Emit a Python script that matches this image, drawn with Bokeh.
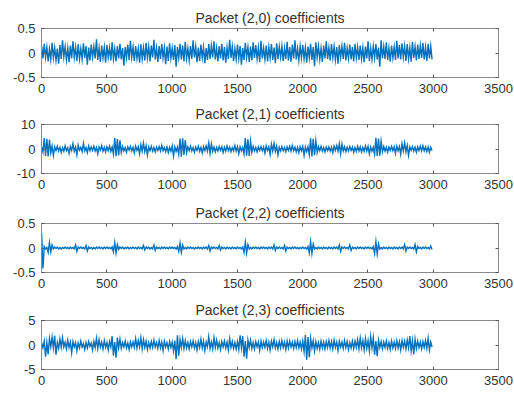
import numpy as np
from bokeh.plotting import figure
from bokeh.layouts import column
from bokeh.models import LinearAxis, FixedTicker, Range1d
from bokeh.embed import file_html
from bokeh.resources import INLINE

# ---------------- data ----------------
sample_index = np.arange(1, 3000, 10)

titles = ["Packet (2,0) coefficients", "Packet (2,1) coefficients",
          "Packet (2,2) coefficients", "Packet (2,3) coefficients"]

coef_20 = [
    0.14, -0.11, 0.19, -0.09, 0.12, -0.17, 0.08, -0.13, 0.21, -0.10,
    0.11, -0.15, 0.09, -0.22, 0.16, -0.12, 0.26, -0.08, 0.13, -0.14,
    0.10, -0.19, 0.15, -0.11, 0.24, -0.09, 0.12, -0.16, 0.18, -0.12,
    0.09, -0.13, 0.20, -0.10, 0.14, -0.24, 0.11, -0.15, 0.17, -0.09,
    0.13, -0.11, 0.28, -0.14, 0.10, -0.18, 0.15, -0.10, 0.12, -0.20,
    0.16, -0.09, 0.11, -0.15, 0.22, -0.12, 0.09, -0.17, 0.14, -0.11,
    0.19, -0.13, 0.10, -0.26, 0.12, -0.10, 0.17, -0.14, 0.25, -0.09,
    0.12, -0.16, 0.14, -0.11, 0.09, -0.20, 0.18, -0.12, 0.11, -0.15,
    0.21, -0.10, 0.13, -0.17, 0.15, -0.09, 0.27, -0.13, 0.10, -0.18,
    0.14, -0.12, 0.18, -0.10, 0.11, -0.23, 0.13, -0.16, 0.20, -0.11,
    0.10, -0.14, 0.16, -0.28, 0.12, -0.10, 0.19, -0.13, 0.15, -0.17,
    0.23, -0.11, 0.09, -0.15, 0.14, -0.12, 0.26, -0.09, 0.13, -0.19,
    0.11, -0.16, 0.17, -0.10, 0.12, -0.21, 0.10, -0.14, 0.18, -0.12,
    0.15, -0.09, 0.24, -0.13, 0.10, -0.17, 0.14, -0.11, 0.19, -0.15,
    0.12, -0.20, 0.11, -0.12, 0.27, -0.10, 0.13, -0.16, 0.09, -0.13,
    0.17, -0.11, 0.14, -0.24, 0.10, -0.14, 0.21, -0.09, 0.12, -0.18,
    0.13, -0.15, 0.22, -0.10, 0.16, -0.12, 0.11, -0.19, 0.25, -0.11,
    0.10, -0.13, 0.15, -0.17, 0.12, -0.10, 0.18, -0.14, 0.11, -0.21,
    0.20, -0.12, 0.13, -0.09, 0.14, -0.16, 0.10, -0.12, 0.23, -0.15,
    0.12, -0.18, 0.17, -0.11, 0.26, -0.13, 0.09, -0.15, 0.14, -0.10,
    0.16, -0.12, 0.11, -0.20, 0.13, -0.10, 0.19, -0.14, 0.12, -0.27,
    0.22, -0.09, 0.14, -0.13, 0.10, -0.18, 0.15, -0.11, 0.24, -0.12,
    0.11, -0.15, 0.18, -0.10, 0.13, -0.14, 0.12, -0.22, 0.16, -0.09,
    0.14, -0.12, 0.21, -0.15, 0.10, -0.11, 0.17, -0.13, 0.12, -0.17,
    0.19, -0.10, 0.12, -0.14, 0.15, -0.12, 0.11, -0.19, 0.13, -0.11,
    0.24, -0.16, 0.10, -0.13, 0.14, -0.10, 0.18, -0.13, 0.11, -0.28,
    0.26, -0.11, 0.13, -0.12, 0.22, -0.14, 0.10, -0.17, 0.15, -0.10,
    0.12, -0.14, 0.25, -0.11, 0.16, -0.13, 0.20, -0.09, 0.14, -0.16,
    0.18, -0.12, 0.11, -0.18, 0.23, -0.10, 0.13, -0.15, 0.17, -0.12,
    0.15, -0.10, 0.21, -0.13, 0.12, -0.16, 0.19, -0.11, 0.14, -0.13,
]

coef_21 = [
    0.8, -1.2, 4.5, -2.8, 4.2, -3.0, 3.8, -1.5, 1.2, -2.6,
    0.9, -0.6, 1.1, -0.8, 0.7, -1.4, 0.6, -0.9, 1.3, -0.7,
    0.5, -1.8, 1.0, -0.6, 2.2, -0.9, 0.8, -2.4, 1.6, -0.5,
    0.7, -1.1, 2.3, -0.8, 0.6, -1.5, 1.2, -0.7, 0.9, -0.6,
    1.1, -0.8, 0.6, -1.9, 0.8, -0.5, 1.4, -0.9, 0.7, -1.2,
    0.9, -0.7, 1.2, -1.0, 0.8, -2.1, 4.6, -2.9, 4.1, -2.6,
    3.5, -1.4, 1.0, -0.8, 0.6, -1.3, 0.9, -0.5, 1.1, -0.8,
    0.7, -1.6, 1.2, -0.6, 0.9, -2.0, 1.8, -0.9, 2.4, -1.1,
    1.3, -2.5, 0.8, -0.7, 1.1, -0.9, 0.6, -1.2, 0.8, -0.6,
    1.0, -0.8, 1.5, -0.7, 0.6, -1.1, 0.9, -1.4, 0.7, -0.9,
    1.2, -2.8, 0.9, -1.0, 0.8, -2.2, 4.3, -3.1, 4.4, -2.4,
    3.6, -1.5, 0.9, -0.7, 1.2, -0.8, 0.6, -1.3, 0.8, -0.6,
    1.1, -0.9, 0.7, -1.6, 1.0, -0.7, 1.3, -0.8, 2.5, -1.8,
    2.1, -0.9, 0.8, -1.2, 0.6, -0.8, 1.0, -0.6, 0.9, -1.4,
    0.7, -0.9, 1.2, -0.7, 0.8, -1.1, 0.6, -0.8, 1.4, -0.9,
    1.0, -1.9, 0.9, -0.8, 0.7, -2.0, 4.5, -2.7, 4.0, -2.8,
    3.3, -1.3, 1.1, -0.8, 0.6, -1.2, 0.9, -0.6, 1.0, -0.7,
    0.8, -1.7, 1.3, -0.6, 0.9, -2.2, 2.0, -0.8, 2.3, -1.0,
    1.2, -2.4, 0.7, -0.8, 1.0, -0.7, 0.6, -1.1, 0.9, -0.6,
    1.1, -0.9, 1.4, -0.7, 0.8, -1.2, 0.7, -1.5, 0.9, -0.8,
    1.0, -2.6, 0.8, -1.1, 0.9, -2.3, 4.4, -3.0, 4.2, -2.5,
    3.4, -1.4, 1.0, -0.7, 1.1, -0.9, 0.6, -1.2, 0.8, -0.7,
    0.9, -0.8, 0.7, -1.5, 1.2, -0.6, 1.4, -0.9, 2.2, -1.9,
    2.0, -0.8, 0.9, -1.1, 0.7, -0.9, 1.0, -0.6, 0.8, -1.3,
    0.6, -1.0, 1.1, -0.8, 0.9, -1.2, 0.7, -0.9, 1.3, -0.8,
    1.1, -2.0, 0.8, -0.9, 0.7, -2.1, 4.6, -2.8, 4.3, -2.7,
    3.2, -1.2, 1.0, -0.9, 0.7, -1.3, 0.8, -0.6, 1.1, -0.7,
    0.9, -1.8, 1.2, -0.7, 1.0, -2.1, 2.1, -0.8, 2.5, -1.2,
    1.4, -2.6, 0.8, -0.6, 1.0, -0.9, 0.7, -1.3, 0.9, -0.7,
    1.2, -0.8, 1.3, -0.7, 0.9, -1.0, 0.8, -1.4, 0.7, -0.6,
]

coef_22 = [
    0.30, -0.42, 0.03, -0.02, 0.01, -0.09, 0.11, -0.08, 0.06, -0.02,
    0.02, -0.01, 0.02, -0.02, 0.01, -0.02, 0.01, -0.01, 0.02, -0.01,
    0.01, -0.02, 0.02, -0.01, 0.01, -0.02, 0.06, -0.07, 0.02, -0.01,
    0.02, -0.01, 0.01, -0.02, 0.05, -0.06, 0.02, -0.01, 0.01, -0.02,
    0.01, -0.02, 0.02, -0.01, 0.02, -0.01, 0.01, -0.02, 0.02, -0.01,
    0.02, -0.01, 0.01, -0.02, 0.02, -0.08, 0.11, -0.10, 0.07, -0.03,
    0.02, -0.01, 0.02, -0.02, 0.01, -0.01, 0.02, -0.02, 0.01, -0.01,
    0.02, -0.01, 0.01, -0.02, 0.02, -0.01, 0.01, -0.02, 0.05, -0.04,
    0.02, -0.01, 0.02, -0.02, 0.01, -0.02, 0.06, -0.05, 0.02, -0.01,
    0.01, -0.02, 0.02, -0.01, 0.02, -0.01, 0.01, -0.02, 0.02, -0.01,
    0.02, -0.01, 0.01, -0.02, 0.03, -0.07, 0.10, -0.09, 0.06, -0.02,
    0.01, -0.02, 0.02, -0.01, 0.02, -0.01, 0.01, -0.02, 0.01, -0.01,
    0.02, -0.01, 0.01, -0.02, 0.02, -0.01, 0.02, -0.02, 0.05, -0.06,
    0.02, -0.01, 0.02, -0.01, 0.01, -0.02, 0.05, -0.04, 0.02, -0.01,
    0.01, -0.02, 0.02, -0.01, 0.01, -0.02, 0.02, -0.01, 0.01, -0.02,
    0.02, -0.01, 0.01, -0.02, 0.02, -0.09, 0.12, -0.10, 0.07, -0.02,
    0.01, -0.02, 0.02, -0.01, 0.02, -0.01, 0.01, -0.02, 0.02, -0.01,
    0.02, -0.01, 0.01, -0.02, 0.02, -0.01, 0.02, -0.02, 0.06, -0.05,
    0.02, -0.01, 0.02, -0.01, 0.01, -0.02, 0.05, -0.06, 0.02, -0.01,
    0.01, -0.02, 0.02, -0.01, 0.02, -0.01, 0.01, -0.02, 0.01, -0.01,
    0.02, -0.01, 0.01, -0.02, 0.03, -0.10, 0.13, -0.11, 0.08, -0.02,
    0.01, -0.02, 0.02, -0.01, 0.01, -0.02, 0.02, -0.01, 0.01, -0.02,
    0.02, -0.01, 0.01, -0.02, 0.02, -0.01, 0.02, -0.02, 0.06, -0.07,
    0.02, -0.01, 0.02, -0.01, 0.01, -0.02, 0.06, -0.05, 0.02, -0.01,
    0.01, -0.02, 0.02, -0.01, 0.02, -0.01, 0.01, -0.02, 0.02, -0.01,
    0.02, -0.01, 0.01, -0.02, 0.03, -0.11, 0.13, -0.12, 0.08, -0.02,
    0.01, -0.02, 0.02, -0.01, 0.01, -0.02, 0.02, -0.01, 0.01, -0.02,
    0.02, -0.01, 0.01, -0.02, 0.02, -0.01, 0.02, -0.02, 0.07, -0.06,
    0.02, -0.01, 0.02, -0.01, 0.01, -0.02, 0.07, -0.08, 0.03, -0.01,
    0.01, -0.02, 0.02, -0.01, 0.02, -0.01, 0.01, -0.02, 0.04, -0.03,
]

coef_23 = [
    0.4, -0.6, 0.8, -2.4, 0.5, -1.9, 1.3, -0.4, 1.6, -0.6,
    1.9, -2.0, 0.5, -0.7, 1.2, -0.5, 1.5, -0.4, 0.6, -0.8,
    1.0, -0.5, 0.6, -1.6, 0.7, -0.4, 0.5, -1.2, 0.4, -0.6,
    0.8, -0.4, 0.3, -0.9, 0.5, -0.6, 0.7, -0.3, 0.4, -1.0,
    0.7, -0.5, 1.4, -0.7, 1.1, -0.4, 0.6, -0.8, 0.9, -0.5,
    0.5, -1.0, 0.7, -0.4, 1.8, -2.2, 0.6, -2.6, 1.5, -0.6,
    1.2, -0.7, 0.5, -0.4, 0.8, -0.6, 0.4, -0.9, 0.6, -0.4,
    0.6, -0.5, 1.3, -0.6, 0.9, -0.4, 1.5, -0.8, 1.1, -0.5,
    0.8, -0.9, 0.5, -0.6, 0.7, -0.5, 1.0, -0.4, 0.5, -0.7,
    0.9, -0.6, 0.6, -1.1, 0.8, -0.4, 0.5, -0.8, 0.7, -0.5,
    0.6, -1.2, 0.9, -2.9, 2.0, -2.2, 1.1, -0.5, 1.3, -0.7,
    0.9, -0.6, 0.5, -0.8, 0.7, -0.4, 0.8, -0.6, 0.5, -1.0,
    0.7, -0.5, 1.2, -0.6, 0.8, -1.1, 0.6, -0.4, 1.7, -0.7,
    0.6, -0.8, 1.5, -0.5, 1.0, -0.6, 0.5, -0.9, 0.7, -0.4,
    0.8, -0.6, 0.6, -1.0, 1.3, -0.5, 0.7, -0.7, 0.5, -0.8,
    0.7, -0.9, 2.0, -0.6, 1.8, -2.4, 0.8, -2.8, 1.0, -0.5,
    1.0, -0.7, 0.5, -0.8, 0.7, -0.4, 0.6, -1.1, 0.8, -0.5,
    0.6, -0.5, 0.9, -0.7, 0.6, -1.0, 0.8, -0.4, 1.1, -0.6,
    0.5, -0.8, 0.7, -0.6, 0.9, -0.5, 0.6, -0.9, 0.8, -0.6,
    0.8, -0.4, 0.6, -0.7, 0.7, -0.5, 0.9, -0.6, 0.6, -0.8,
    0.8, -1.3, 2.1, -3.0, 1.6, -2.5, 1.4, -0.6, 0.9, -1.2,
    0.7, -0.7, 0.5, -0.9, 0.8, -0.6, 0.6, -0.8, 0.7, -0.5,
    0.9, -0.6, 0.7, -0.8, 1.0, -0.5, 0.6, -1.1, 0.8, -0.4,
    0.6, -0.7, 0.9, -0.5, 0.7, -0.9, 0.5, -0.6, 0.8, -0.7,
    0.8, -0.5, 1.1, -0.8, 1.4, -0.6, 0.9, -1.0, 1.3, -0.7,
    0.9, -1.2, 1.7, -0.6, 1.5, -2.0, 0.8, -2.3, 1.0, -0.5,
    0.7, -0.8, 0.6, -0.5, 0.8, -0.7, 0.5, -0.9, 0.8, -0.6,
    0.6, -0.7, 0.9, -0.6, 0.7, -1.0, 0.9, -0.5, 0.8, -0.8,
    1.0, -0.6, 1.8, -1.2, 0.9, -1.9, 1.2, -0.7, 0.8, -0.5,
    0.6, -0.8, 0.7, -0.5, 0.9, -0.7, 1.4, -1.0, 0.6, -0.4,
]

series = [coef_20, coef_21, coef_22, coef_23]
y_limits = [(-0.5, 0.5), (-10, 10), (-0.5, 0.5), (-5, 5)]
y_ticks = [[-0.5, 0, 0.5], [-10, 0, 10], [-0.5, 0, 0.5], [-5, 0, 5]]
y_tick_labels = [["-0.5", "0", "0.5"], ["-10", "0", "10"],
                 ["-0.5", "0", "0.5"], ["-5", "0", "5"]]
x_ticks = [0, 500, 1000, 1500, 2000, 2500, 3000, 3500]
x_tick_labels = ["0", "500", "1000", "1500", "2000", "2500", "3000", "3500"]

# ---------------- style ----------------
FONT = "Liberation Sans"
LINE = "#0072BD"
FRAME = "#8a8a8a"
TEXT = "#333333"

top_borders = [28, 24, 24, 24]
bottom_borders = [23, 26, 24, 22]


def style_axis(ax, show_labels):
    ax.axis_line_color = FRAME
    ax.major_tick_line_color = "#555555"
    ax.major_tick_in = 3
    ax.major_tick_out = 0
    ax.minor_tick_line_color = None
    ax.major_label_text_font = FONT
    if show_labels:
        ax.major_label_text_color = TEXT
        ax.major_label_text_font_size = "13px"
        ax.major_label_standoff = 6
    else:
        ax.major_label_text_color = None
        ax.major_label_text_font_size = "1px"
        ax.major_label_standoff = 0


figs = []
for i in range(4):
    p = figure(frame_width=457, frame_height=49,
               min_border_left=41, min_border_right=16,
               min_border_top=top_borders[i], min_border_bottom=bottom_borders[i],
               x_range=Range1d(0, 3500), y_range=Range1d(*y_limits[i]),
               output_backend="svg", toolbar_location=None,
               title=titles[i])
    p.title.text_font = FONT
    p.title.text_font_size = "14px"
    p.title.text_font_style = "normal"
    p.title.text_color = TEXT
    p.title.align = "center"
    p.title.standoff = 6
    p.xgrid.visible = False
    p.ygrid.visible = False
    p.outline_line_color = FRAME
    p.outline_line_alpha = 1
    p.background_fill_color = "white"
    p.border_fill_color = "white"

    p.xaxis.ticker = FixedTicker(ticks=x_ticks)
    p.xaxis.major_label_overrides = dict(zip(x_ticks, x_tick_labels))
    p.yaxis.ticker = FixedTicker(ticks=y_ticks[i])
    p.yaxis.major_label_overrides = dict(zip(y_ticks[i], y_tick_labels[i]))
    for ax in p.xaxis:
        style_axis(ax, True)
    for ax in p.yaxis:
        style_axis(ax, True)

    top_ax = LinearAxis(ticker=FixedTicker(ticks=x_ticks))
    style_axis(top_ax, False)
    p.add_layout(top_ax, "above")
    right_ax = LinearAxis(ticker=FixedTicker(ticks=y_ticks[i]))
    style_axis(right_ax, False)
    p.add_layout(right_ax, "right")

    p.line(sample_index, series[i], line_color=LINE, line_width=1.4,
           line_join="miter")
    figs.append(p)

layout = column(*figs, spacing=0)
open("out.html", "w").write(file_html(layout, INLINE))
